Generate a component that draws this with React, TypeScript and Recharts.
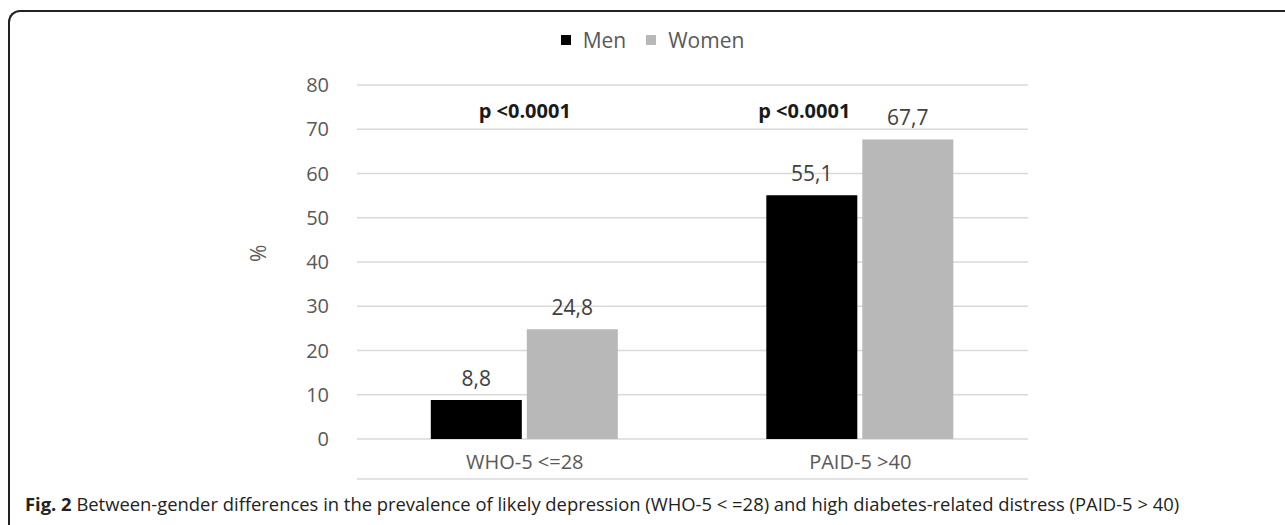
import React from "react";
import { BarChart, Bar, XAxis, YAxis, CartesianGrid, Legend, LabelList, ReferenceDot } from "recharts";

const categories = ["WHO-5 <=28", "PAID-5 >40"];
const men = [8.8, 55.1];
const women = [24.8, 67.7];
const pValues = ["p <0.0001", "p <0.0001"];
const pLevel = 74.3;
const yTicks = [0, 10, 20, 30, 40, 50, 60, 70, 80];
const boundaryTicks = [0, 1, 2];

const data = categories.map((c, i) => ({ name: c, men: men[i], women: women[i] }));

const FONT = "'Open Sans', 'DejaVu Sans', sans-serif";
const comma = (v: any) => String(v).replace(".", ",");
const pShift = [0, -56];

const PLabel = (props: any) => {
  const { viewBox, value, dx } = props;
  return (
    <text x={viewBox.x + dx} y={viewBox.y} textAnchor="middle" dominantBaseline="central" fontFamily={FONT} fontWeight={700} fontSize={20} fill="#1a1a1a">
      {value}
    </text>
  );
};

const LegendContent = (props: any) => {
  const { payload } = props;
  return (
    <div style={{ display: "flex", justifyContent: "center", alignItems: "center", height: 30, fontFamily: FONT, fontSize: 21, color: "#595959" }}>
      {(payload || []).map((p: any, i: number) => (
        <span key={p.value} style={{ display: "flex", alignItems: "center", marginLeft: i ? 20 : 0 }}>
          <span style={{ width: 10, height: 10, background: p.color, marginRight: 12, display: "inline-block" }} />
          {p.value}
        </span>
      ))}
    </div>
  );
};

export default function App() {
  return (
    <div style={{ position: "absolute", left: 0, top: 0, width: 1285, height: 525, background: "#fff", overflow: "hidden", fontFamily: FONT }}>
      <div style={{ position: "absolute", left: 8, top: 10, width: 1300, height: 513, borderLeft: "2px solid #222", borderTop: "2px solid #222", borderTopLeftRadius: 12 }} />
      <div style={{ position: "absolute", left: 0, top: 0 }}>
        <BarChart width={1285} height={525} data={data} margin={{ top: 55, right: 257, bottom: 36, left: 257 }} barCategoryGap="22%" barGap={5}>
          <CartesianGrid vertical={false} stroke="#d9d9d9" strokeWidth={1.5} />
          <XAxis xAxisId="b" type="number" domain={[0, 2]} ticks={boundaryTicks} height={10} tick={false} tickLine={{ stroke: "#d9d9d9" }} tickSize={8} axisLine={{ stroke: "#d9d9d9", strokeWidth: 1.5 }} />
          <XAxis dataKey="name" height={40} axisLine={false} tickLine={false} tick={{ fill: "#595959", fontSize: 20, fontFamily: FONT }} tickMargin={10} />
          <YAxis domain={[0, 80]} ticks={yTicks} width={100} axisLine={false} tickLine={false} tick={{ fill: "#595959", fontSize: 20, fontFamily: FONT }} tickMargin={22}
            label={{ value: "%", angle: -90, position: "insideLeft", offset: 2, fill: "#595959", fontSize: 21, fontFamily: FONT }} />
          <Legend verticalAlign="top" content={<LegendContent />} wrapperStyle={{ top: 25, left: 10, width: 1285, height: 30 }} />
          <Bar dataKey="men" name="Men" fill="#000000" isAnimationActive={false}>
            <LabelList dataKey="men" position="top" offset={14} formatter={comma} fill="#404040" fontSize={21} fontFamily={FONT} />
          </Bar>
          <Bar dataKey="women" name="Women" fill="#b8b8b8" isAnimationActive={false}>
            <LabelList dataKey="women" position="top" offset={14} formatter={comma} fill="#404040" fontSize={21} fontFamily={FONT} />
          </Bar>
          {categories.map((c, i) => (
            <ReferenceDot key={c} x={c} y={pLevel} r={0} stroke="none" fill="none" label={<PLabel value={pValues[i]} dx={pShift[i]} />} />
          ))}
        </BarChart>
      </div>
      <div style={{ position: "absolute", left: 25, top: 491, fontSize: 18.4, color: "#222", whiteSpace: "nowrap" }}>
        <b>Fig. 2</b> Between-gender differences in the prevalence of likely depression (WHO-5 &lt; =28) and high diabetes-related distress (PAID-5 &gt; 40)
      </div>
    </div>
  );
}
